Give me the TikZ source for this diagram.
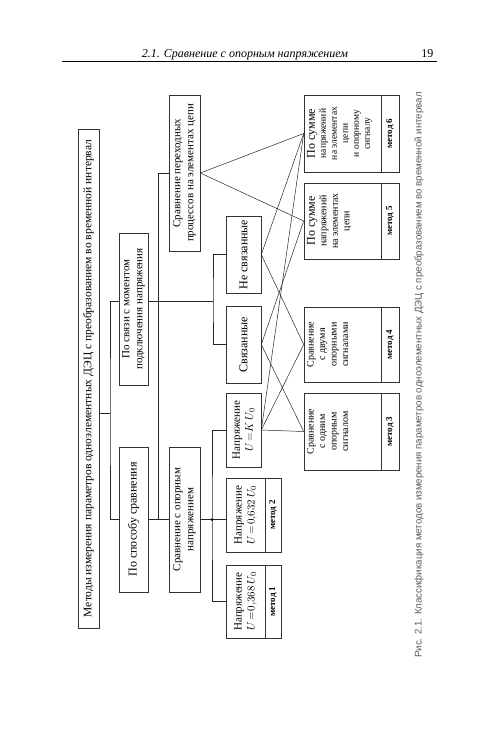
\documentclass[tikz,border=0pt]{standalone}
\usepackage{fontspec}
\setmainfont{Liberation Serif}
\newfontfamily\capfont{Liberation Sans}

\tikzset{
  box/.style={draw=black!80, line width=0.6pt, rotate=90, inner sep=1pt, align=center, font=\fontsize{11}{13}\selectfont},
  metodbox/.style={box, font=\bfseries\fontsize{9}{11}\selectfont},
  boxtext/.style={rotate=90, inner sep=3pt, align=center, anchor=north, font=\fontsize{10}{11.5}\selectfont},
  link/.style={black!85, line width=0.5pt},
}

\begin{document}
\begin{tikzpicture}[x=1pt,y=-1pt]
\useasboundingbox (0,0) rectangle (500,756);

% running head
\node[anchor=base, font=\itshape\fontsize{12}{14}\selectfont] (head) at (245,57) {2.1. Сравнение с опорным напряжением};
\node[anchor=base east, font=\fontsize{12}{14}\selectfont] (page) at (437,57) {19};
\draw[line width=0.8pt] (62,61) -- (437,61);

% upper levels
\node[box, font=\fontsize{11.5}{14}\selectfont, minimum width=499pt, minimum height=21pt] (title) at (88.5,378.5) {Методы измерения параметров одноэлементных ДЭЦ с преобразованием во временной интервал};
\node[box, minimum width=152pt, minimum height=29pt] (svyaz) at (133.5,309) {По связи с моментом\\подключения напряжения};
\node[box, font=\fontsize{12}{14}\selectfont, minimum width=145pt, minimum height=29pt] (sposob) at (133.5,519.5) {По способу сравнения};
\node[box, minimum width=145pt, minimum height=31pt] (opor) at (184.5,519.5) {Сравнение с опорным\\напряжением};
\node[box, minimum width=156pt, minimum height=31pt] (perehod) at (184.5,173) {Сравнение переходных\\процессов на элементах цепи};
\node[box, font=\fontsize{12}{14}\selectfont, minimum width=77pt, minimum height=35pt] (nesv) at (243.5,254.5) {Не связанные};
\node[box, font=\fontsize{12}{14}\selectfont, minimum width=77pt, minimum height=35pt] (sv) at (243.5,344.5) {Связанные};

% voltage levels
\node[box, minimum width=74pt, minimum height=35pt] (ku) at (243.5,430) {Напряжение\\$U\!=\!K\,U_0$};
\node[box, minimum width=74pt, minimum height=39pt] (u632) at (245.5,515) {Напряжение\\$U\!=\!0{,}632\,U_0$};
\node[metodbox, minimum width=74pt, minimum height=16pt] (u632n) at (273,515) {метод 2};
\node[box, minimum width=73pt, minimum height=39pt] (u368) at (245.5,601.5) {Напряжение\\$U\!=\!0{,}368\,U_0$};
\node[metodbox, minimum width=73pt, minimum height=16pt] (u368n) at (273,601.5) {метод 1};

% methods 3-6
\node[box, minimum width=77pt, minimum height=77pt] (m3) at (342.5,431.5) {};
\node[boxtext] (m3t) at (m3.north) {Сравнение\\с одним\\опорным\\сигналом};
\node[metodbox, minimum width=77pt, minimum height=18pt] (m3n) at (390,431.5) {метод 3};
\node[box, minimum width=75pt, minimum height=77pt] (m4) at (342.5,344.5) {};
\node[boxtext] (m4t) at (m4.north) {Сравнение\\с двумя\\опорными\\сигналами};
\node[metodbox, minimum width=75pt, minimum height=18pt] (m4n) at (390,344.5) {метод 4};
\node[box, minimum width=76pt, minimum height=77pt] (m5) at (342.5,221) {};
\node[boxtext] (m5t) at (m5.north) {{\fontsize{12}{13}\selectfont По сумме}\\напряжений\\на элементах\\цепи};
\node[metodbox, minimum width=76pt, minimum height=18pt] (m5n) at (390,221) {метод 5};
\node[box, minimum width=77pt, minimum height=77pt] (m6) at (342.5,133.5) {};
\node[boxtext, font=\fontsize{9.5}{11}\selectfont] (m6t) at (m6.north) {{\fontsize{12}{13}\selectfont По сумме}\\напряжений\\на элементах\\цепи\\и опорному\\сигналу};
\node[metodbox, minimum width=77pt, minimum height=18pt] (m6n) at (390,133.5) {метод 6};

% buses
\coordinate (b1) at (110,413);
\coordinate (b2) at (158,519.5);
\coordinate (b3) at (213,301);
\coordinate (b4) at (212,519.5);
\draw[link] (title.south |- b1) -- (b1);
\draw[link] (svyaz.north |- b3) -| (b1) |- (sposob.north);
\draw[link] (sposob.south) -- (opor.north);
\draw[link] (b2) |- (perehod.north);
\draw[link] (svyaz.south |- b3) -- (b3);
\draw[link] (nesv.north) -| (b3) |- (sv.north);
\draw[link] (opor.south) -- (b4) -- (b4 -| u632.north);
\fill (b4) circle (1.5pt);
\draw[link] (ku.north) -| (b4) |- (u368.north);

% crossing links
\draw[link] (perehod.south) -- (m6.north);
\draw[link] (perehod.south) -- (m5.north);
\draw[link] (nesv.south) -- (m6.north);
\draw[link] (nesv.south) -- (m4.north);
\draw[link] (sv.south) -- (m5.north);
\draw[link] (sv.south) -- (m3.north);
\draw[link] (ku.south) -- (m6.north);
\draw[link] (ku.south) -- (m4.north);
\draw[link] (ku.south) -- (m3.north);

% caption
\node[rotate=90, font=\capfont\fontsize{9.7}{12}\selectfont, text=black!65] (cap) at (419,375) {Рис. 2.1. Классификация методов измерения параметров одноэлементных ДЭЦ с преобразованием во временной интервал};
\end{tikzpicture}
\end{document}
